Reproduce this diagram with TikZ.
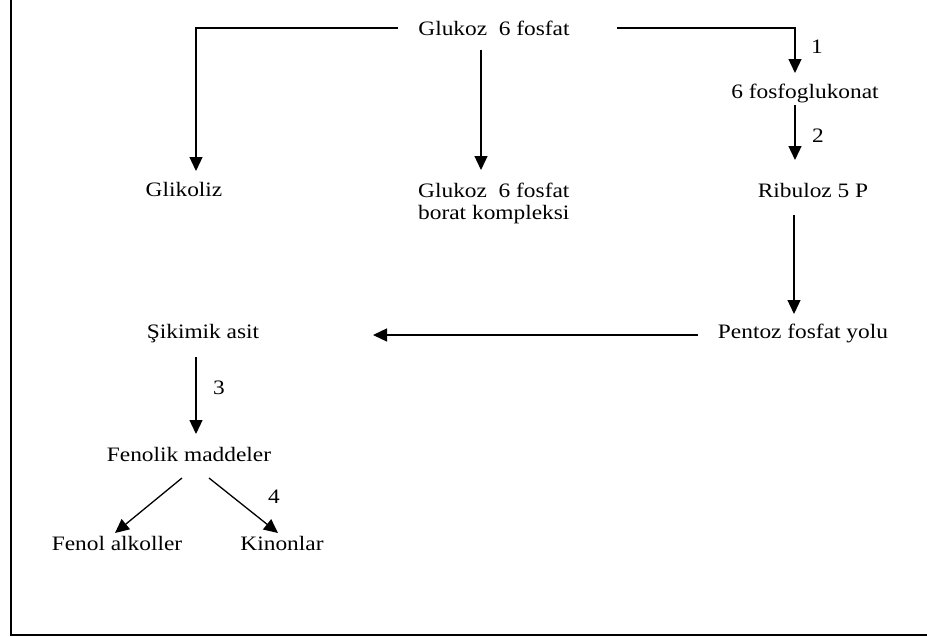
\documentclass[tikz,border=0pt]{standalone}
\usepackage{fontspec}
\setmainfont{Liberation Serif}[FakeStretch=1.14]
\usetikzlibrary{arrows.meta}
\begin{document}
\begin{tikzpicture}[x=1pt,y=-1pt,
  lbl/.style={font=\fontsize{20.5}{22}\selectfont, inner sep=0pt, anchor=base},
  arr/.style={line width=1.3pt, -{Triangle[width=13pt,length=14pt]}}]
\useasboundingbox (0,0) rectangle (927,637);
\draw[line width=1.2pt] (11,0) -- (11,635) -- (927,635);
% nodes
\node[lbl] (g6) at (494,35) {Glukoz\ \ 6 fosfat};
\node[lbl] (glik) at (184,196) {Glikoliz};
\node[lbl, anchor=north west, align=left] (borat) at (418,183) {Glukoz\ \ 6 fosfat\\borat kompleksi};
\node[lbl] (fg) at (805,98) {6 fosfoglukonat};
\node[lbl] (rib) at (813,197) {Ribuloz 5 P};
\node[lbl] (pent) at (803,338) {Pentoz fosfat yolu};
\node[lbl] (sik) at (203,338) {Şikimik asit};
\node[lbl] (fen) at (189,461) {Fenolik maddeler};
\node[lbl] (falk) at (117,550) {Fenol alkoller};
\node[lbl] (kin) at (282,550) {Kinonlar};
\node[lbl] (n1) at (817,53) {1};
\node[lbl] (n2) at (818,142) {2};
\node[lbl] (n3) at (219,394) {3};
\node[lbl] (n4) at (274,503) {4};
% connector end points
\coordinate (gL) at (398,28);
\coordinate (gR) at (617,28);
\coordinate (gB) at (481,50);
\coordinate (glikT) at (196,171);
\coordinate (boratT) at (481,170);
\coordinate (fgT) at (795,73);
\coordinate (fgB) at (795,105);
\coordinate (ribT) at (795,160);
\coordinate (ribB) at (794,215);
\coordinate (pentT) at (794,314);
\coordinate (pentW) at (698,335);
\coordinate (sikE) at (373,335);
\coordinate (sikB) at (196,357);
\coordinate (fenT) at (196,434);
\coordinate (fenBL) at (182,478);
\coordinate (fenBR) at (209,478);
\coordinate (falkT) at (115,533);
\coordinate (kinT) at (278,533);
% connectors
\draw[arr] (gL) -| (glikT);
\draw[arr] (gB) -- (boratT);
\draw[arr] (gR) -| (fgT);
\draw[arr] (fgB) -- (ribT);
\draw[arr] (ribB) -- (pentT);
\draw[arr] (pentW) -- (sikE);
\draw[arr] (sikB) -- (fenT);
\draw[arr] (fenBL) -- (falkT);
\draw[arr] (fenBR) -- (kinT);
\end{tikzpicture}
\end{document}
